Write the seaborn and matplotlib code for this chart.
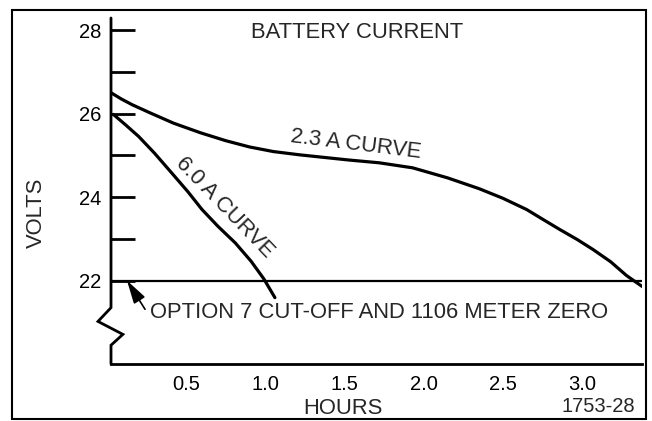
import numpy as np
import pandas as pd
import matplotlib
matplotlib.use('Agg')
import matplotlib.pyplot as plt
import seaborn as sns

# 数据
hours_23 = [0.025, 0.09, 0.16, 0.27, 0.42, 0.59, 0.75, 0.90, 1.05, 1.22, 1.37, 1.52, 1.72,
            1.93, 2.15, 2.35, 2.50, 2.65, 2.75, 2.86, 2.97, 3.07, 3.18, 3.28, 3.378]
volts_23 = [26.50, 26.35, 26.21, 26.02, 25.77, 25.54, 25.35, 25.20, 25.09, 25.01, 24.95, 24.89, 24.82,
            24.70, 24.46, 24.20, 23.97, 23.70, 23.47, 23.22, 22.98, 22.74, 22.45, 22.12, 21.86]

hours_60 = [0.04, 0.12, 0.20, 0.30, 0.41, 0.51, 0.60, 0.70, 0.81, 0.91, 0.99, 1.06]
volts_60 = [25.98, 25.72, 25.45, 25.05, 24.57, 24.13, 23.70, 23.30, 22.90, 22.46, 22.04, 21.59]

cutoff_volts = 22
x_ticks = [0.5, 1.0, 1.5, 2.0, 2.5, 3.0]
x_tick_labels = ['0.5', '1.0', '1.5', '2.0', '2.5', '3.0']
y_major = [22, 24, 26, 28]
y_minor = [23, 25, 27]

df = pd.concat([
    pd.DataFrame({'hours': hours_23, 'volts': volts_23, 'curve': '2.3 A'}),
    pd.DataFrame({'hours': hours_60, 'volts': volts_60, 'curve': '6.0 A'}),
], ignore_index=True)

sns.set_theme(style='white')
plt.rcParams['font.family'] = ['Liberation Sans', 'DejaVu Sans']

fig = plt.figure(figsize=(6.52, 4.21), dpi=100)
ax = fig.add_axes([111 / 652, 1 - 364 / 421, (642 - 111) / 652, (364 - 18) / 421])

sns.lineplot(data=df, x='hours', y='volts', hue='curve', units='curve', estimator=None,
             palette={'2.3 A': 'black', '6.0 A': 'black'}, sort=False, legend=False,
             lw=2.3, ax=ax)

x_left, x_right = 0.025, 3.378
ax.set_xlim(x_left, x_right)
ax.set_ylim(20.0, 28.29)

# 截止电压线
ax.axhline(cutoff_volts, color='black', lw=1.6)

# 坐标轴:左轴带断裂符号
for s in ['top', 'right', 'left']:
    ax.spines[s].set_visible(False)
ax.spines['bottom'].set_linewidth(2)
ax.spines['bottom'].set_color('black')
ax.plot([x_left, x_left, -0.057, 0.10, x_left, x_left],
        [28.29, 21.35, 21.02, 20.71, 20.45, 20.0],
        color='black', lw=2, clip_on=False, solid_joinstyle='miter')

ax.set_xticks(x_ticks)
ax.set_xticklabels(x_tick_labels)
ax.set_yticks(y_major)
ax.set_yticks(y_minor, minor=True)
ax.tick_params(axis='both', which='both', direction='in', length=17, width=2,
               color='black', labelsize=14.5, labelcolor='black')
ax.tick_params(axis='x', pad=8)
ax.tick_params(axis='y', pad=7, left=True, which='both')
ax.set_xlabel('')
ax.set_ylabel('')

# 文字
fs = 15.8
fig.text(357 / 652, 1 - 32 / 421, 'BATTERY CURRENT', ha='center', va='center', fontsize=fs)
fig.text(36 / 652, 1 - 213 / 421, 'VOLTS', ha='center', va='center', rotation=90, fontsize=fs)
fig.text(343 / 652, 1 - 409 / 421, 'HOURS', ha='center', va='center', fontsize=fs)
fig.text(598 / 652, 1 - 407 / 421, '1753-28', ha='center', va='center', fontsize=14.5)

ax.text(1.57, 25.25, '2.3 A CURVE', ha='center', va='center', rotation=-7,
        rotation_mode='anchor', fontsize=fs)
ax.text(0.74, 23.74, '6.0 A CURVE', ha='center', va='center', rotation=-46,
        rotation_mode='anchor', fontsize=fs)

ax.annotate('OPTION 7 CUT-OFF AND 1106 METER ZERO', xy=(0.126, 22.0), xytext=(0.27, 21.23),
            ha='left', va='center', fontsize=fs,
            arrowprops=dict(arrowstyle='-|>,head_length=0.9,head_width=0.25', color='black',
                            lw=1.2, shrinkA=2, shrinkB=0, relpos=(0, 0.3)))

# 外框
fig.add_artist(plt.Rectangle((12 / 652, 1 - 419 / 421), (646 - 12) / 652, (419 - 10) / 421,
                             transform=fig.transFigure, fill=False, lw=1.5, color='black'))

fig.savefig('out.png', dpi=100)
